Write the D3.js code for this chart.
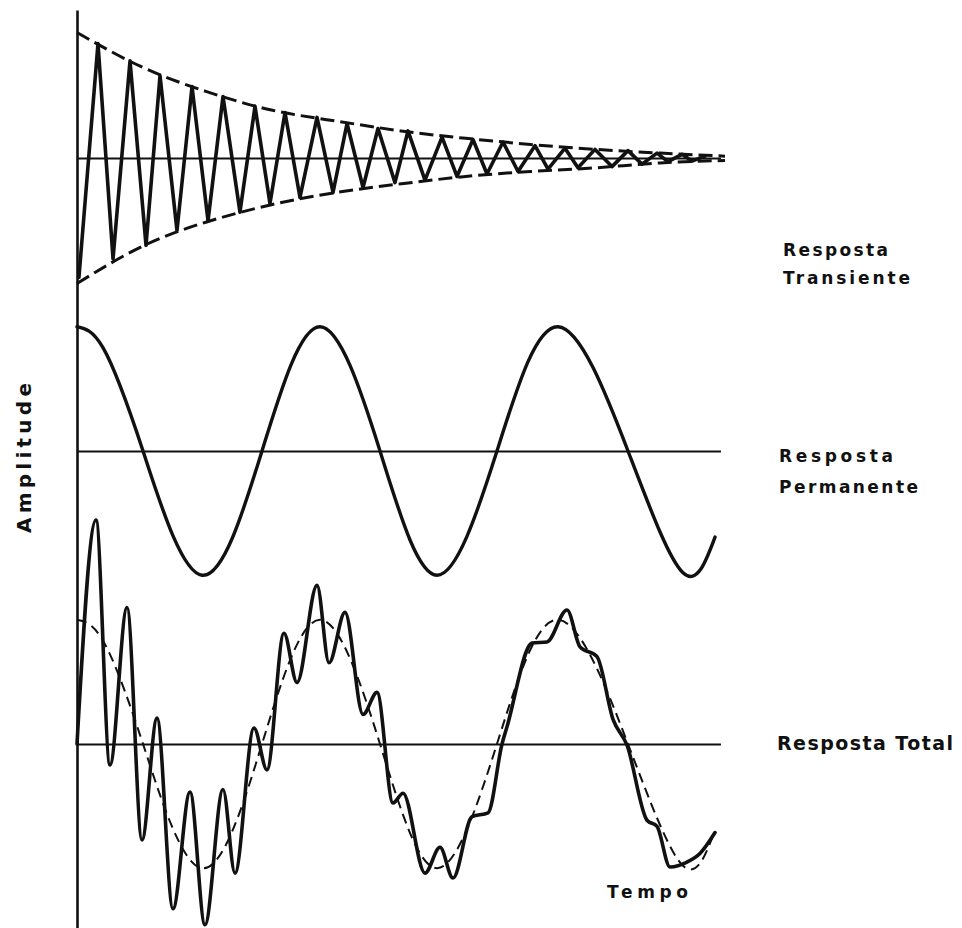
<!DOCTYPE html>
<html>
<head>
<meta charset="utf-8">
<script src="https://cdn.jsdelivr.net/npm/d3@7"></script>
<style>
  html, body { margin: 0; padding: 0; background: #fff; }
  svg { display: block; }
  .lbl { font-family: "DejaVu Sans", sans-serif; font-weight: bold; fill: #111; }
</style>
</head>
<body>
<svg id="chart" width="962" height="928"></svg>
<script>
// Time in arbitrary units (0..100 across the plot), amplitude relative to the steady-state peak.

// Damped oscillation: successive extrema [time, amplitude]
const transientExtrema = [
  [0.3, -0.97], [3.24, 0.93], [5.56, -0.82], [8.18, 0.79], [10.65, -0.71], [12.81, 0.67],
  [15.43, -0.59], [17.75, 0.58], [20.22, -0.51], [22.53, 0.50], [25.15, -0.44], [27.47, 0.42],
  [29.78, -0.37], [32.10, 0.37], [34.41, -0.32], [37.04, 0.33], [39.51, -0.28], [41.67, 0.28],
  [44.14, -0.24], [46.45, 0.24], [49.07, -0.20], [51.08, 0.22], [53.70, -0.18], [56.33, 0.17],
  [58.64, -0.15], [61.11, 0.15], [63.27, -0.13], [65.74, 0.13], [68.06, -0.11], [70.68, 0.10],
  [72.69, -0.09], [75.31, 0.08], [77.31, -0.08], [79.94, 0.07], [82.56, -0.07], [85.03, 0.06],
  [87.19, -0.05], [89.51, 0.04], [91.20, -0.03], [93.36, 0.03], [94.91, -0.025], [96.91, 0.015]
];

// Decay envelope of the damped oscillation
const envelopeTimes = [0, 10, 20, 30, 40, 50, 60, 70, 80, 90, 100];
const envelopeUpper = [1.02, 0.74, 0.54, 0.39, 0.30, 0.22, 0.16, 0.11, 0.07, 0.04, 0.015];
const envelopeLower = [-1.02, -0.72, -0.52, -0.38, -0.28, -0.21, -0.15, -0.11, -0.08, -0.04, -0.02];

// Steady-state sinusoid: points [time, amplitude]
const steadyPoints = [
  [0, 1.01], [4.01, 0.84], [10.19, 0], [19.29, -1.01], [28.55, 0],
  [37.50, 1.01], [46.76, 0], [55.56, -1.01], [64.81, 0], [74.23, 1.01], [85.03, 0],
  [93.52, -0.99], [98.46, -0.70]
];

// Total response (steady state plus transient): points [time, amplitude]
const totalPoints = [
  [0, 0], [2.93, 1.82], [5.09, -0.17], [7.72, 1.11], [10.03, -0.78], [12.35, 0.21],
  [14.81, -1.34], [17.44, -0.39], [19.75, -1.47], [22.53, -0.37], [24.38, -1.05], [27.31, 0.13],
  [29.32, -0.21], [31.94, 0.90], [33.95, 0.50], [37.04, 1.29], [38.89, 0.66], [41.36, 1.07],
  [44.14, 0.24], [46.30, 0.42], [48.77, -0.48], [50.31, -0.40], [53.70, -1.05], [56.02, -0.84],
  [58.02, -1.09], [60.96, -0.59], [63.43, -0.56], [65.59, 0], [66.36, 0.14], [70.22, 0.82],
  [72.53, 0.83], [75.62, 1.09], [77.62, 0.79], [80.25, 0.71], [82.72, 0.20], [84.88, -0.01],
  [87.96, -0.62], [89.51, -0.67], [91.51, -1.00], [94.14, -0.96], [96.14, -0.89], [98.46, -0.72]
];

const panelLabels = [
  ["Resposta", "Transiente"],
  ["Resposta", "Permanente"],
  ["Resposta Total"]
];
const axisTitleY = "Amplitude";
const axisTitleX = "Tempo";

// ---- layout ----
const svg = d3.select("#chart");
const left = 77, right = 725;
const baselines = [158, 451, 744];
const amp = 123;

const x = d3.scaleLinear().domain([0, 100]).range([left, right]);
const yFor = b => d3.scaleLinear().domain([-1, 1]).range([b + amp, b - amp]);
const yTop = yFor(baselines[0]);
const yMid = yFor(baselines[1]);
const yBot = yFor(baselines[2]);

const ink = "#111";

// Vertical amplitude axis (no ticks)
const yAxisScale = d3.scaleLinear().domain([0, 1]).range([928, 10]);
const yAxis = svg.append("g")
  .attr("transform", `translate(${left},0)`)
  .call(d3.axisLeft(yAxisScale).tickValues([]).tickSizeOuter(0));
yAxis.select(".domain").attr("stroke", ink).attr("stroke-width", 2.6);

// Zero lines of the three panels
[yTop, yMid, yBot].forEach(y => {
  const g = svg.append("g")
    .attr("transform", `translate(0,${y(0)})`)
    .call(d3.axisBottom(d3.scaleLinear().domain([0, 99.3]).range([left, x(99.3)])).tickValues([]).tickSizeOuter(0));
  g.select(".domain").attr("stroke", ink).attr("stroke-width", 2);
});

// Transient panel: envelope (dashed) and the oscillation
const envLine = d3.line().x((d, i) => x(envelopeTimes[i])).y(d => yTop(d)).curve(d3.curveNatural);
[envelopeUpper, envelopeLower].forEach(arr => {
  svg.append("path")
    .attr("d", envLine(arr))
    .attr("fill", "none").attr("stroke", ink).attr("stroke-width", 3)
    .attr("stroke-dasharray", "14 6");
});

svg.append("path")
  .attr("d", d3.line().x(d => x(d[0])).y(d => yTop(d[1])).curve(d3.curveLinear)(transientExtrema))
  .attr("fill", "none").attr("stroke", ink).attr("stroke-width", 3.6)
  .attr("stroke-linejoin", "round").attr("stroke-linecap", "round");

// Steady-state panel
const steadyLine = y => d3.line().x(d => x(d[0])).y(d => y(d[1])).curve(d3.curveNatural);
svg.append("path")
  .attr("d", steadyLine(yMid)(steadyPoints))
  .attr("fill", "none").attr("stroke", ink).attr("stroke-width", 3.4)
  .attr("stroke-linecap", "round");

// Total panel: steady-state reference (dashed) and total response
svg.append("path")
  .attr("d", steadyLine(yBot)(steadyPoints))
  .attr("fill", "none").attr("stroke", ink).attr("stroke-width", 2)
  .attr("stroke-dasharray", "10 6");

svg.append("path")
  .attr("d", d3.line().x(d => x(d[0])).y(d => yBot(d[1])).curve(d3.curveMonotoneX)(totalPoints))
  .attr("fill", "none").attr("stroke", ink).attr("stroke-width", 3.6)
  .attr("stroke-linejoin", "round").attr("stroke-linecap", "round");

// Panel labels
const labelSpecs = [
  { x: 783, ys: [256, 284], w: [105, 127], size: 17 },
  { x: 779, ys: [462, 493], w: [114, 139], size: 17 },
  { x: 777, ys: [750], w: [176], size: 19 }
];
panelLabels.forEach((lines, i) => {
  const s = labelSpecs[i];
  lines.forEach((t, j) => {
    svg.append("text").attr("class", "lbl")
      .attr("x", s.x).attr("y", s.ys[j])
      .attr("font-size", s.size)
      .attr("textLength", s.w[j]).attr("lengthAdjust", "spacing")
      .text(t);
  });
});

// Axis titles
svg.append("text").attr("class", "lbl")
  .attr("transform", "translate(31,533) rotate(-90)")
  .attr("font-size", 20)
  .attr("textLength", 150).attr("lengthAdjust", "spacing")
  .text(axisTitleY);

svg.append("text").attr("class", "lbl")
  .attr("x", 607).attr("y", 898)
  .attr("font-size", 17)
  .attr("textLength", 81).attr("lengthAdjust", "spacing")
  .text(axisTitleX);
</script>
</body>
</html>
